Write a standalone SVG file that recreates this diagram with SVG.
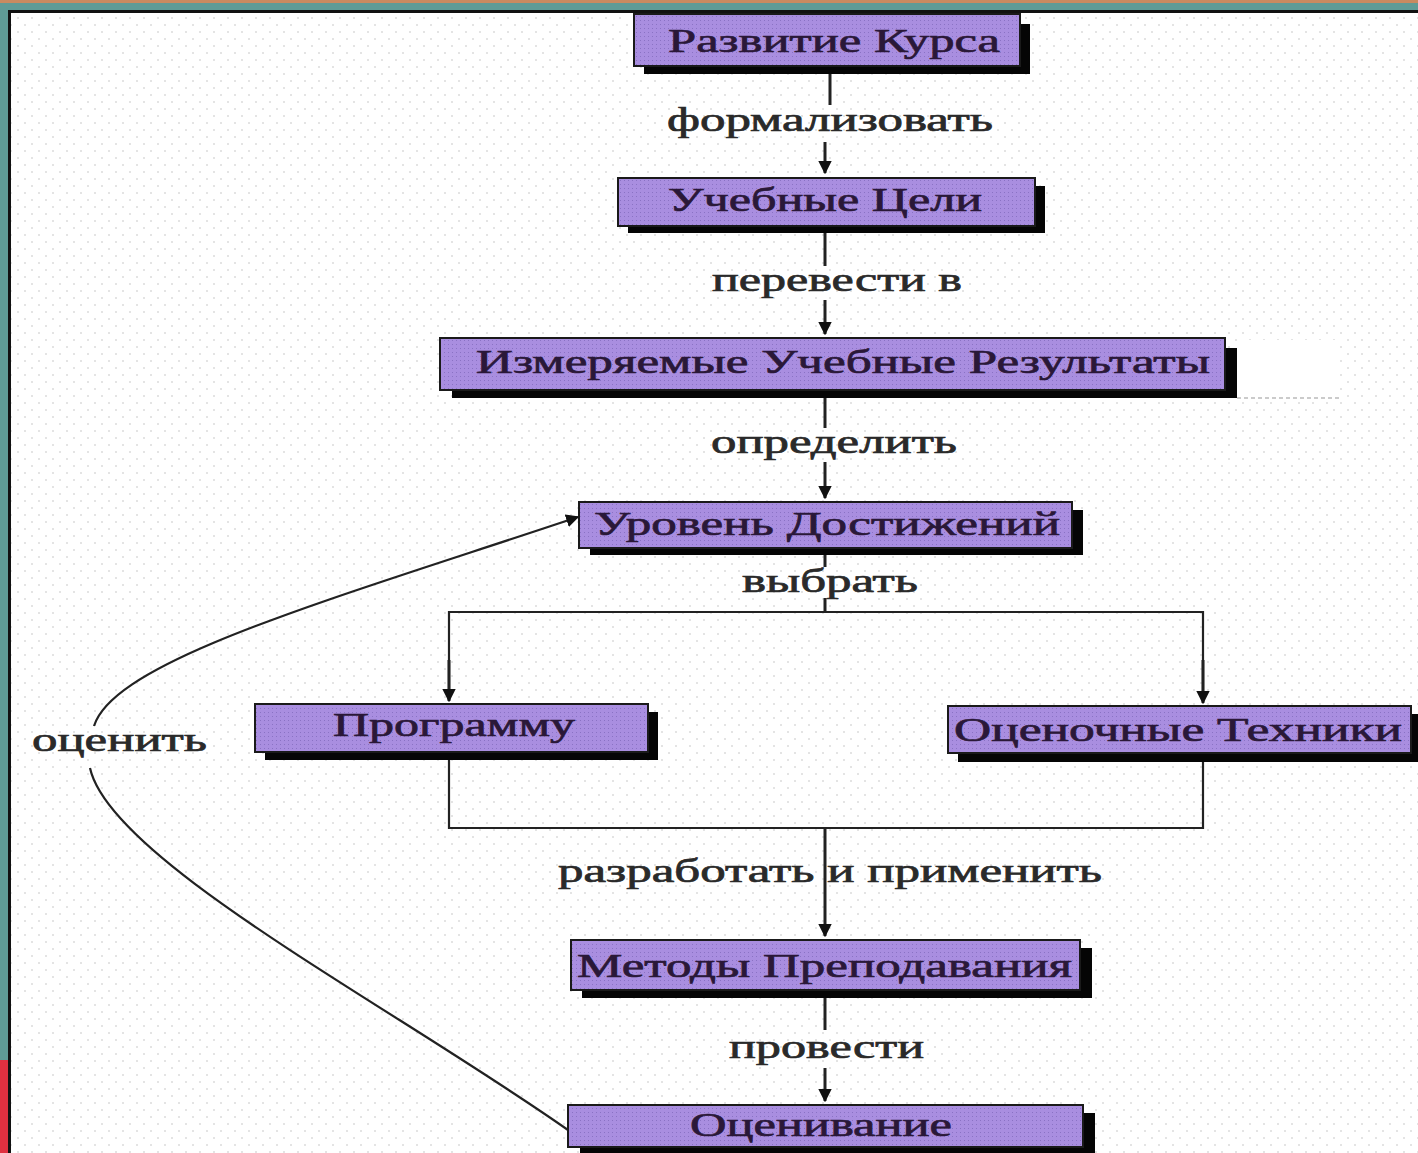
<svg xmlns="http://www.w3.org/2000/svg" width="1418" height="1153" viewBox="0 0 1418 1153">
<defs>
<pattern id="dots" width="14" height="14" patternUnits="userSpaceOnUse">
<rect width="14" height="14" fill="#ffffff"/>
<circle cx="4" cy="4" r="0.9" fill="#d8d8d8"/>
<circle cx="11" cy="11" r="0.9" fill="#d8d8d8"/>
</pattern>
<pattern id="boxfill" width="4" height="4" patternUnits="userSpaceOnUse">
<rect width="4" height="4" fill="#a98ee0"/>
<rect x="0" y="0" width="1" height="1" fill="#8a72c4"/>
</pattern>
<marker id="arr" viewBox="0 0 10 10" refX="9" refY="5" markerWidth="4.5" markerHeight="4.5" orient="auto" markerUnits="strokeWidth">
<path d="M0,0 L10,5 L0,10 z" fill="#111"/>
</marker>
<marker id="arr2" viewBox="0 0 10 10" refX="9" refY="5" markerWidth="6" markerHeight="6" orient="auto" markerUnits="strokeWidth">
<path d="M0,0 L10,5 L0,10 z" fill="#111"/>
</marker>
</defs>
<style>
.shadow{fill:#050505}
.box{fill:url(#boxfill);stroke:#1a1a1a;stroke-width:2}
.nt{font-family:"Liberation Serif","Times New Roman",serif;font-size:34px;fill:#2a1838;stroke:#2a1838;stroke-width:0.7}
.lt{font-family:"Liberation Serif","Times New Roman",serif;font-size:33px;fill:#2a2a2a;stroke:#2a2a2a;stroke-width:0.7}
.ln{fill:none;stroke:#222;stroke-width:3}
.cv{fill:none;stroke:#222;stroke-width:2.2}
</style>
<rect x="0" y="0" width="1418" height="1153" fill="#5f9b96"/>
<rect x="0" y="0" width="1418" height="3" fill="#c98a60"/>
<rect x="0" y="1060" width="8" height="93" fill="#e03040"/>
<rect x="8" y="10" width="1410" height="1143" fill="#111"/>
<rect x="11" y="13" width="1407" height="1140" fill="url(#dots)"/>
<rect x="1237" y="340" width="103" height="58" fill="#ffffff"/>
<line x1="1237" y1="398" x2="1340" y2="398" stroke="#bbb" stroke-width="1.5" stroke-dasharray="4 3"/>

<g id="connectors">
<line class="ln" x1="830" y1="74" x2="830" y2="105"/>
<line class="ln" x1="825" y1="142" x2="825" y2="173" marker-end="url(#arr)"/>
<line class="ln" x1="825" y1="233" x2="825" y2="266"/>
<line class="ln" x1="825" y1="300" x2="825" y2="334" marker-end="url(#arr)"/>
<line class="ln" x1="825" y1="398" x2="825" y2="428"/>
<line class="ln" x1="825" y1="462" x2="825" y2="498" marker-end="url(#arr)"/>
<line class="ln" x1="825" y1="555" x2="825" y2="567"/>
<line class="ln" x1="825" y1="598" x2="825" y2="612"/>
<polyline class="cv" points="449,700 449,612 1203,612 1203,700"/>
<line class="ln" x1="449" y1="660" x2="449" y2="701" marker-end="url(#arr)"/>
<line class="ln" x1="1203" y1="660" x2="1203" y2="703" marker-end="url(#arr)"/>
<polyline class="cv" points="449,760 449,828 1203,828 1203,762"/>
<line class="ln" x1="825" y1="828" x2="825" y2="936" marker-end="url(#arr)"/>
<line class="ln" x1="825" y1="998" x2="825" y2="1030"/>
<line class="ln" x1="825" y1="1068" x2="825" y2="1101" marker-end="url(#arr)"/>
<path class="cv" d="M568,1130 C390,1005 110,860 90,768"/>
<path class="cv" d="M94,726 C115,660 330,600 578,517" marker-end="url(#arr2)"/>
</g>

<g id="lbl-formalize"><text class="lt" x="667" y="131" textLength="326" lengthAdjust="spacingAndGlyphs">формализовать</text></g>
<g id="lbl-translate"><text class="lt" x="712" y="291" textLength="250" lengthAdjust="spacingAndGlyphs">перевести в</text></g>
<g id="lbl-define"><text class="lt" x="711" y="453" textLength="246" lengthAdjust="spacingAndGlyphs">определить</text></g>
<g id="lbl-choose"><text class="lt" x="742" y="592" textLength="176" lengthAdjust="spacingAndGlyphs">выбрать</text></g>
<g id="lbl-evaluate"><text class="lt" x="32" y="751" textLength="175" lengthAdjust="spacingAndGlyphs">оценить</text></g>
<g id="lbl-develop"><text class="lt" x="558" y="882" textLength="544" lengthAdjust="spacingAndGlyphs">разработать и применить</text></g>
<g id="lbl-conduct"><text class="lt" x="729" y="1058" textLength="195" lengthAdjust="spacingAndGlyphs">провести</text></g>

<g id="n1">
<rect class="shadow" x="644" y="24" width="386" height="50"/>
<rect class="box" x="634" y="14" width="386" height="52"/>
<text class="nt" x="668" y="52" textLength="332" lengthAdjust="spacingAndGlyphs">Развитие Курса</text>
</g>
<g id="n2">
<rect class="shadow" x="628" y="186" width="417" height="47"/>
<rect class="box" x="618" y="178" width="417" height="48"/>
<text class="nt" x="668" y="211" textLength="314" lengthAdjust="spacingAndGlyphs">Учебные Цели</text>
</g>
<g id="n3">
<rect class="shadow" x="452" y="348" width="785" height="50"/>
<rect class="box" x="440" y="338" width="785" height="52"/>
<text class="nt" x="476" y="373" textLength="734" lengthAdjust="spacingAndGlyphs">Измеряемые Учебные Результаты</text>
</g>
<g id="n4">
<rect class="shadow" x="590" y="510" width="493" height="45"/>
<rect class="box" x="579" y="502" width="493" height="46"/>
<text class="nt" x="594" y="535" textLength="466" lengthAdjust="spacingAndGlyphs">Уровень Достижений</text>
</g>
<g id="n5">
<rect class="shadow" x="265" y="712" width="393" height="48"/>
<rect class="box" x="255" y="704" width="393" height="48"/>
<text class="nt" x="333" y="736" textLength="242" lengthAdjust="spacingAndGlyphs">Программу</text>
</g>
<g id="n6">
<rect class="shadow" x="958" y="714" width="460" height="48"/>
<rect class="box" x="948" y="706" width="463" height="47"/>
<text class="nt" x="954" y="741" textLength="448" lengthAdjust="spacingAndGlyphs">Оценочные Техники</text>
</g>
<g id="n7">
<rect class="shadow" x="582" y="948" width="510" height="50"/>
<rect class="box" x="571" y="940" width="509" height="50"/>
<text class="nt" x="577" y="977" textLength="495" lengthAdjust="spacingAndGlyphs">Методы Преподавания</text>
</g>
<g id="n8">
<rect class="shadow" x="580" y="1113" width="515" height="40"/>
<rect class="box" x="568" y="1105" width="515" height="42"/>
<text class="nt" x="690" y="1136" textLength="262" lengthAdjust="spacingAndGlyphs">Оценивание</text>
</g>
</svg>
